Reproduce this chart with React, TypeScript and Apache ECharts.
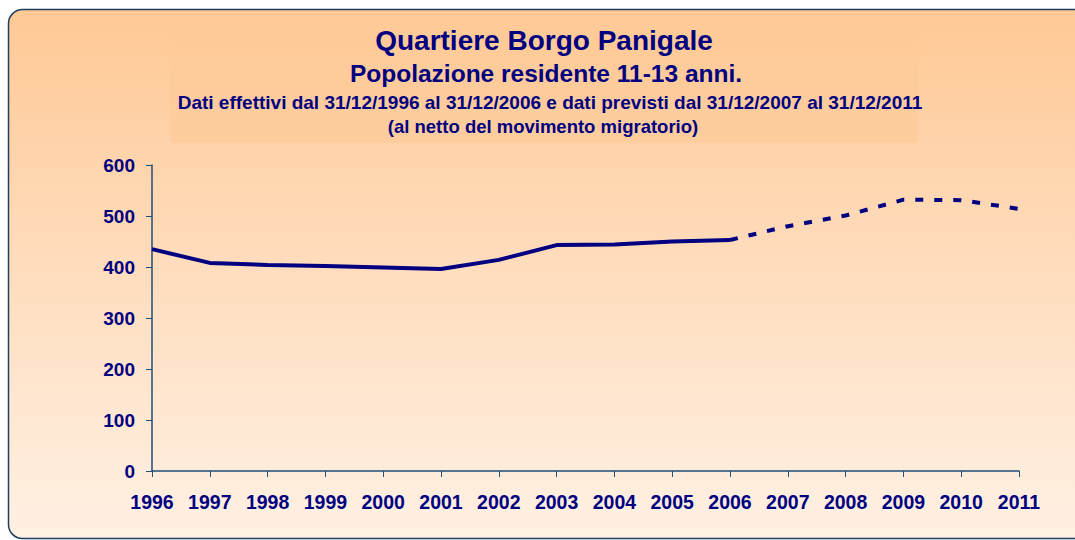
import React, { useEffect, useRef } from "react";
import * as echarts from "echarts";

const years = ["1996","1997","1998","1999","2000","2001","2002","2003","2004","2005","2006","2007","2008","2009","2010","2011"];
const actual = [435, 408, 404, 402, 399, 396, 414, 443, 444, 450, 453, null, null, null, null, null];
const forecast = [null, null, null, null, null, null, null, null, null, null, 453, 480, 501, 532, 531, 514];
const yTicks = [0, 100, 200, 300, 400, 500, 600];

const titleLines = [
  "Quartiere Borgo Panigale",
  "Popolazione residente 11-13 anni.",
  "Dati effettivi dal 31/12/1996 al 31/12/2006 e dati previsti dal 31/12/2007 al 31/12/2011",
  "(al netto del movimento migratorio)",
];

const NAVY = "#000080";
const FONT = "'Liberation Sans', Arial, sans-serif";

function titleText(text: string, x: number, y: number, size: number) {
  return {
    type: "text",
    x,
    y,
    z: 10,
    style: {
      text,
      fill: NAVY,
      fontSize: size,
      fontWeight: "bold",
      fontFamily: FONT,
      textAlign: "center",
      textVerticalAlign: "middle",
    },
  };
}

export default function App() {
  const ref = useRef<HTMLDivElement>(null);
  useEffect(() => {
    if (!ref.current) return;
    const chart = echarts.init(ref.current, undefined, { renderer: "svg" });
    chart.setOption({
      animation: false,
      backgroundColor: "#ffffff",
      graphic: [
        {
          type: "rect",
          z: -10,
          shape: { x: 8.5, y: 9.5, width: 1090, height: 529, r: 14 },
          style: {
            fill: new echarts.graphic.LinearGradient(0, 0, 0, 1, [
              { offset: 0, color: "#FFC995" },
              { offset: 0.5, color: "#FFDDBE" },
              { offset: 1, color: "#FFF1E4" },
            ]),
            stroke: "#1F3F5F",
            lineWidth: 1.5,
          },
        },
        {
          type: "rect",
          z: -9,
          shape: { x: 170, y: 30, width: 748, height: 113 },
          style: { fill: "#FECA97", opacity: 0.6 },
        },
        titleText(titleLines[0], 544, 40, 28),
        titleText(titleLines[1], 546, 73, 24.5),
        titleText(titleLines[2], 550, 102, 19),
        titleText(titleLines[3], 543, 126, 18.5),
      ],
      grid: { left: 152, right: 56, top: 165, bottom: 69, containLabel: false },
      xAxis: {
        type: "category",
        data: years,
        boundaryGap: false,
        axisLine: { lineStyle: { color: "#1F4E79", width: 1.5 } },
        axisTick: { show: true, length: 6, alignWithLabel: true, lineStyle: { color: "#1F4E79" } },
        axisLabel: { color: NAVY, fontWeight: "bold", fontSize: 19.5, fontFamily: FONT, margin: 21, interval: 0 },
        splitLine: { show: false },
      },
      yAxis: {
        type: "value",
        min: 0,
        max: 600,
        interval: 100,
        axisLine: { show: true, lineStyle: { color: "#1F4E79", width: 1.5 } },
        axisTick: { show: true, length: 6, lineStyle: { color: "#1F4E79" } },
        axisLabel: {
          color: NAVY,
          fontWeight: "bold",
          fontSize: 19,
          fontFamily: FONT,
          margin: 17,
          formatter: (v: number) => (yTicks.includes(v) ? String(v) : ""),
        },
        splitLine: { show: false },
      },
      series: [
        {
          type: "line",
          data: actual,
          symbol: "none",
          lineStyle: { color: NAVY, width: 4 },
          connectNulls: false,
        },
        {
          type: "line",
          data: forecast,
          symbol: "none",
          lineStyle: { color: NAVY, width: 4, type: [8, 11] },
          connectNulls: false,
        },
      ],
    });
    return () => chart.dispose();
  }, []);
  return (
    <div
      ref={ref}
      style={{ position: "absolute", left: 0, top: 0, width: 1075, height: 540 }}
    />
  );
}
